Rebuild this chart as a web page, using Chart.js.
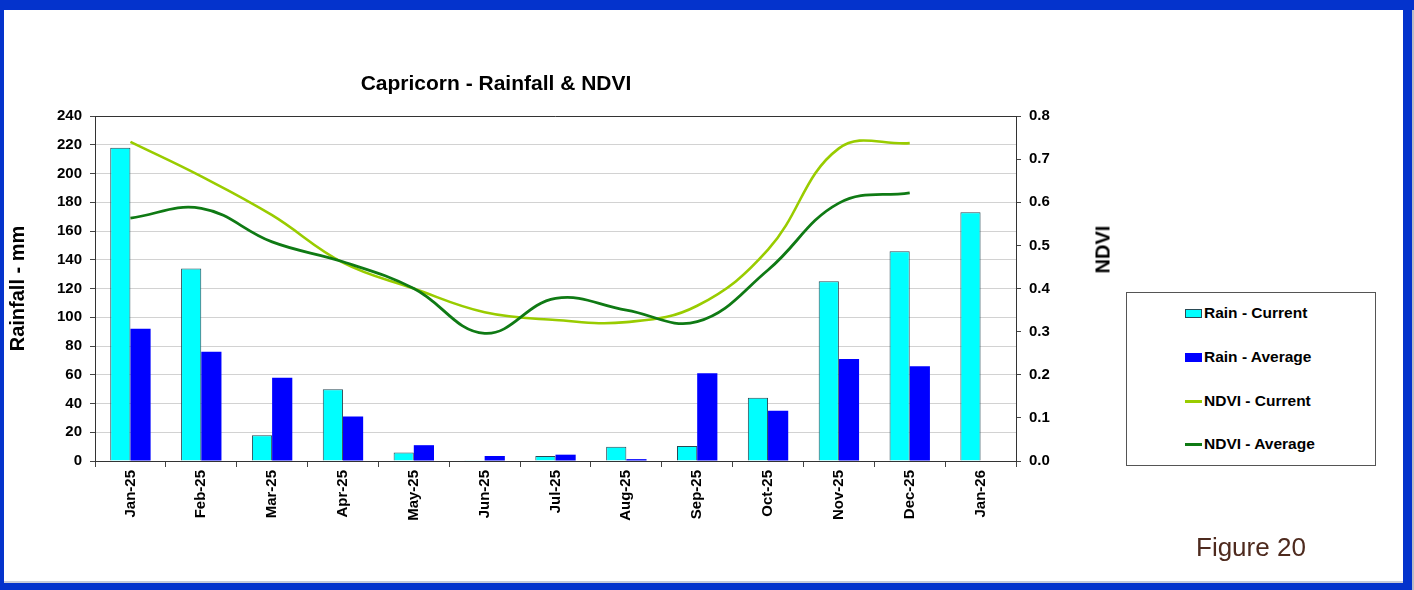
<!DOCTYPE html>
<html lang="en">
<head>
    <meta charset="UTF-8">
    <title>Capricorn - Rainfall &amp; NDVI</title>
    <script src="https://cdn.jsdelivr.net/npm/chart.js@4.4.1/dist/chart.umd.min.js"></script>
    <style>
        html, body { margin: 0; padding: 0; }
        body { width: 1414px; height: 590px; background: #0433cc; position: relative; overflow: hidden; font-family: Arial, "Liberation Sans", sans-serif; }
        .panel { position: absolute; left: 4px; top: 10px; width: 1399px; height: 571px; background: #fff; border-bottom: 2px solid #c8cbd8; }
        .edge { position: absolute; left: 1412px; top: 10px; width: 2px; height: 580px; background: #b8bcc8; }
        #chartCanvas { position: absolute; left: 0; top: 0; }
        .title { position: absolute; left: 296px; width: 400px; top: 71px; text-align: center; font-weight: bold; font-size: 21px; color: #000; }
        .ndvi-title { position: absolute; left: 1078px; top: 238px; width: 50px; text-align: center; font-weight: bold; font-size: 20px; transform: rotate(-90deg); }
        #legend { position: absolute; left: 1126px; top: 292px; width: 248px; height: 172px; border: 1px solid #555; background: #fff; }
        .item { position: absolute; left: 58px; font-weight: bold; font-size: 15.5px; color: #000; display: flex; align-items: center; white-space: nowrap; }
        .swatch { width: 17px; margin-right: 2px; box-sizing: border-box; }
        .figure { position: absolute; left: 1196px; top: 532px; font-size: 26px; color: #4e2a1e; }
    </style>
</head>
<body>
<div class="panel"></div>
<div class="edge"></div>
<canvas id="chartCanvas" width="1414" height="590"></canvas>
<div class="title">Capricorn - Rainfall &amp; NDVI</div>
<div class="ndvi-title">NDVI</div>
<div id="legend"></div>
<div class="figure">Figure 20</div>

<script>
    const months = ['Jan-25', 'Feb-25', 'Mar-25', 'Apr-25', 'May-25', 'Jun-25', 'Jul-25',
                    'Aug-25', 'Sep-25', 'Oct-25', 'Nov-25', 'Dec-25', 'Jan-26'];
    const rainCurrent = [218, 134, 18, 50, 6, 0.6, 3.5, 10, 10.5, 44, 125, 146, 173];
    const rainAverage = [92, 76, 58, 31, 11, 3.5, 4.4, 1.3, 61, 35, 71, 66];
    const ndviCurrent = [0.74, 0.66, 0.57, 0.46, 0.40, 0.345, 0.327, 0.322, 0.36, 0.49, 0.725, 0.737];
    const ndviAverage = [0.563, 0.586, 0.508, 0.462, 0.40, 0.296, 0.377, 0.35, 0.323, 0.443, 0.598, 0.622];
    const rainTicks = { min: 0, max: 240, step: 20 };
    const ndviTicks = { min: 0, max: 0.8, step: 0.1 };

    const boldFont = { family: 'Arial, "Liberation Sans", sans-serif', size: 15, weight: 'bold' };

    // top edge of the plot area
    const frameLine = {
        id: 'frameLine',
        beforeDatasetsDraw(chart) {
            const a = chart.chartArea, ctx = chart.ctx;
            ctx.save();
            ctx.strokeStyle = '#333';
            ctx.lineWidth = 1;
            ctx.beginPath();
            ctx.moveTo(a.left, a.top + 0.5);
            ctx.lineTo(a.right, a.top + 0.5);
            ctx.stroke();
            ctx.restore();
        }
    };

    const chart = new Chart(document.getElementById('chartCanvas'), {
        type: 'bar',
        data: {
            labels: months,
            datasets: [
                { label: 'Rain - Current', data: rainCurrent, yAxisID: 'y', order: 2,
                  backgroundColor: '#00ffff', borderColor: '#2a4a55', borderWidth: 1,
                  categoryPercentage: 0.57, barPercentage: 1.0 },
                { label: 'Rain - Average', data: rainAverage, yAxisID: 'y', order: 2,
                  backgroundColor: '#0000ff', borderColor: '#0000ff', borderWidth: 0,
                  categoryPercentage: 0.57, barPercentage: 1.0 },
                { type: 'line', label: 'NDVI - Current', data: ndviCurrent, yAxisID: 'y1', order: 1,
                  borderColor: '#99cc00', backgroundColor: '#99cc00', borderWidth: 2.6,
                  pointRadius: 0, tension: 0.4, fill: false },
                { type: 'line', label: 'NDVI - Average', data: ndviAverage, yAxisID: 'y1', order: 0,
                  borderColor: '#0f7a14', backgroundColor: '#0f7a14', borderWidth: 2.8,
                  pointRadius: 0, tension: 0.4, fill: false }
            ]
        },
        options: {
            responsive: false,
            animation: false,
            layout: { padding: { left: 4, right: 338, top: 116, bottom: 59 } },
            plugins: {
                legend: { display: false },
                tooltip: { enabled: false }
            },
            scales: {
                x: {
                    afterFit: s => { s.height = 70; },
                    grid: { offset: true, drawOnChartArea: false, tickLength: 6, tickColor: '#444' },
                    border: { color: '#333' },
                    ticks: { minRotation: 90, maxRotation: 90, color: '#000', font: boldFont, padding: 3 }
                },
                y: {
                    position: 'left',
                    min: rainTicks.min, max: rainTicks.max,
                    afterFit: s => { s.width = 91; },
                    grid: { color: '#d2d2d2', tickLength: 5, tickColor: '#444' },
                    border: { color: '#333' },
                    ticks: { stepSize: rainTicks.step, color: '#000', font: boldFont, padding: 8 },
                    title: { display: true, text: 'Rainfall - mm', color: '#000',
                             font: { family: boldFont.family, size: 20, weight: 'bold' }, padding: { top: 2, bottom: 0 } }
                },
                y1: {
                    position: 'right',
                    min: ndviTicks.min, max: ndviTicks.max,
                    afterFit: s => { s.width = 60; },
                    grid: { drawOnChartArea: false, tickLength: 5, tickColor: '#444' },
                    border: { color: '#333' },
                    ticks: { stepSize: ndviTicks.step, color: '#000', font: boldFont, padding: 8,
                             callback: v => Number(v).toFixed(1) }
                }
            }
        },
        plugins: [frameLine]
    });

    // legend box built from the chart's datasets
    const legend = document.getElementById('legend');
    const rowTops = [21, 65, 109, 152];
    chart.data.datasets.forEach((ds, i) => {
        const item = document.createElement('div');
        item.className = 'item';
        item.style.top = (rowTops[i] - 10) + 'px';
        const sw = document.createElement('span');
        sw.className = 'swatch';
        if (ds.type === 'line') {
            sw.style.height = '3px';
            sw.style.background = ds.borderColor;
        } else {
            sw.style.height = '9px';
            sw.style.background = ds.backgroundColor;
            sw.style.border = '1px solid ' + (ds.borderWidth ? ds.borderColor : ds.backgroundColor);
        }
        item.appendChild(sw);
        item.appendChild(document.createTextNode(ds.label));
        legend.appendChild(item);
    });
</script>
</body>
</html>
